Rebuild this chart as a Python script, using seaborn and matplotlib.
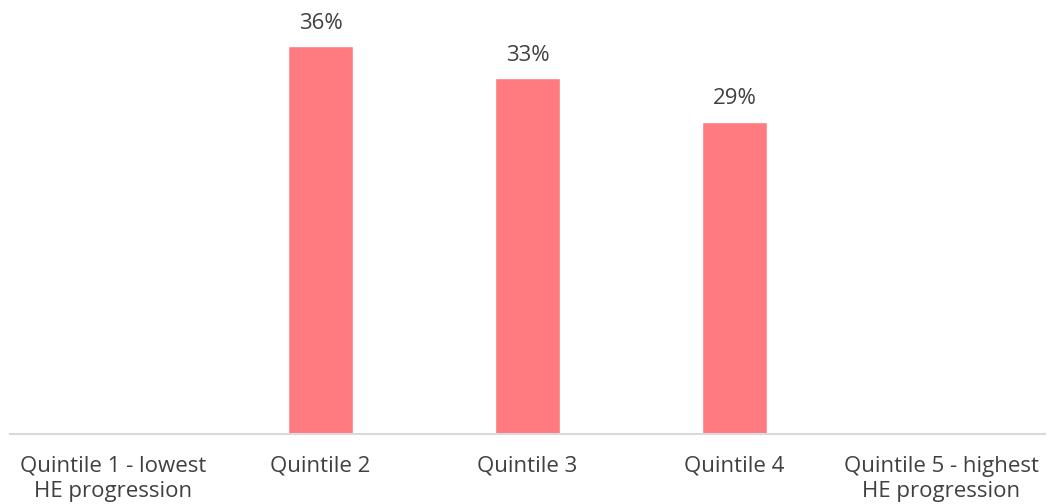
import matplotlib
matplotlib.use("Agg")
import matplotlib.pyplot as plt
import seaborn as sns
import pandas as pd
import numpy as np

categories = ["Quintile 1 - lowest\nHE progression", "Quintile 2", "Quintile 3",
              "Quintile 4", "Quintile 5 - highest\nHE progression"]
values = [np.nan, 36, 33, 29, np.nan]
value_labels = ["", "36%", "33%", "29%", ""]

sns.set_style("white")
plt.rcParams['font.family'] = ['Open Sans', 'DejaVu Sans']

df = pd.DataFrame({"cat": categories, "val": values})

fig = plt.figure(figsize=(10.53, 5.04), dpi=100)
ax = fig.add_axes([10/1053, 70/504, 1035/1053, 431/504])
sns.barplot(data=df, x="cat", y="val", order=categories, color="#FF7B80",
            saturation=1, width=0.315, ax=ax)
ax.set_ylim(0, 40)
ax.set_xlim(-0.5, 4.5)

for i, (v, lab) in enumerate(zip(values, value_labels)):
    if not np.isnan(v):
        ax.annotate(lab, (i, v), xytext=(0, 9), textcoords="offset points",
                    ha="center", va="bottom", fontsize=16, color="#404040")

ax.set_xlabel("")
ax.set_ylabel("")
ax.set_yticks([])
ax.tick_params(axis="x", length=0, pad=15.5, labelsize=16, labelcolor="#404040")
for s in ["top", "left", "right"]:
    ax.spines[s].set_visible(False)
ax.spines["bottom"].set_color("#D9D9D9")
ax.spines["bottom"].set_linewidth(1.5)
for t in ax.get_xticklabels():
    t.set_linespacing(1.3)

fig.savefig("out.png", dpi=100)
